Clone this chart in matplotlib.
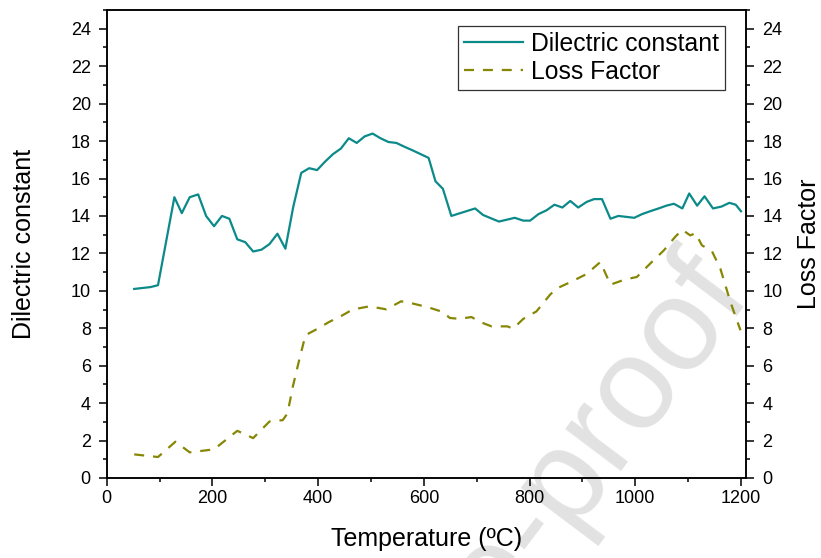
import matplotlib
matplotlib.use("Agg")
import matplotlib.pyplot as plt
from matplotlib.ticker import MultipleLocator

plt.rcParams['font.family'] = ['Liberation Sans', 'DejaVu Sans']

# Dielectric constant vs temperature
temp_dk = [52, 83, 97, 128, 142, 157, 173, 188, 203, 218,
           232, 247, 262, 277, 293, 308, 323, 338, 353, 368,
           383, 398, 413, 428, 443, 458, 473, 488, 503, 518,
           533, 548, 563, 579, 594, 609, 622, 636, 652, 697,
           712, 742, 757, 772, 788, 801, 817, 832, 847, 862,
           877, 892, 908, 922, 937, 953, 968, 983, 998, 1013,
           1028, 1044, 1059, 1073, 1089, 1102, 1117, 1131, 1147, 1163,
           1178, 1190, 1200]
dielectric = [10.1, 10.2, 10.3, 15.0, 14.15, 15.0, 15.15, 14.0, 13.45, 14.0,
              13.85, 12.75, 12.6, 12.1, 12.2, 12.5, 13.05, 12.25, 14.5, 16.3,
              16.55, 16.45, 16.9, 17.3, 17.6, 18.15, 17.9, 18.25, 18.4, 18.15,
              17.95, 17.9, 17.7, 17.5, 17.3, 17.1, 15.85, 15.45, 14.0, 14.4,
              14.05, 13.7, 13.8, 13.9, 13.75, 13.75, 14.1, 14.3, 14.6, 14.45,
              14.8, 14.45, 14.75, 14.9, 14.9, 13.85, 14.0, 13.95, 13.9, 14.1,
              14.25, 14.4, 14.55, 14.65, 14.4, 15.2, 14.55, 15.05, 14.4, 14.5,
              14.7, 14.6, 14.25]

# Loss factor vs temperature
temp_lf = [52, 97, 130, 157, 203, 247, 277, 308, 333, 342,
           352, 364, 376, 396, 421, 446, 465, 497, 529, 557,
           579, 608, 636, 649, 668, 690, 706, 728, 758, 769,
           788, 813, 839, 851, 880, 908, 934, 953, 980, 1003,
           1028, 1054, 1076, 1089, 1104, 1114, 1126, 1145, 1161, 1180,
           1199]
loss_factor = [1.26, 1.12, 1.94, 1.37, 1.53, 2.52, 2.13, 3.02, 3.09, 3.45,
               4.87, 6.29, 7.63, 7.93, 8.34, 8.69, 9.0, 9.17, 9.01, 9.44,
               9.32, 9.12, 8.87, 8.55, 8.5, 8.6, 8.34, 8.1, 8.1, 7.98,
               8.5, 8.9, 9.8, 10.12, 10.5, 10.9, 11.54, 10.33, 10.6, 10.74,
               11.45, 12.16, 12.9, 13.26, 12.96, 13.08, 12.43, 12.12, 11.18, 9.4,
               7.89]

TEAL = '#0c8a8a'
OLIVE = '#878705'

fig = plt.figure(figsize=(8.21, 5.58), dpi=100)
ax = fig.add_axes([0.130, 0.1434, 0.779, 0.8386])
ax2 = ax.twinx()
for a in (ax, ax2):
    a.patch.set_facecolor('none')

# faint diagonal watermark behind the plot
fig.text(0.918, 0.47, 'Journal Pre-proof', fontsize=95, color='#e2e2e2',
         rotation=53, rotation_mode='anchor', ha='right', va='baseline',
         zorder=-5)

l1, = ax.plot(temp_dk, dielectric, color=TEAL, lw=1.6,
              label='Dilectric constant')
l2, = ax2.plot(temp_lf, loss_factor, color=OLIVE, lw=1.6,
               dashes=(4.5, 4), label='Loss Factor')

for a in (ax, ax2):
    a.set_xlim(0, 1210)
    a.set_ylim(0, 25)
    a.yaxis.set_major_locator(MultipleLocator(2))
    a.yaxis.set_minor_locator(MultipleLocator(1))
    for s in a.spines.values():
        s.set_linewidth(1.1)
ax.xaxis.set_major_locator(MultipleLocator(200))
ax.xaxis.set_minor_locator(MultipleLocator(100))

ax.tick_params(axis='both', which='major', direction='out', length=5.5,
               width=1.1, labelsize=13)
ax.tick_params(axis='both', which='minor', direction='out', length=3,
               width=1.1)
ax.tick_params(axis='x', which='major', pad=3)
ax.tick_params(axis='y', which='major', pad=6)
ax.tick_params(axis='x', top=False, which='both')
ax2.tick_params(axis='y', which='major', direction='out', length=5.5,
                width=1.1, labelsize=13, pad=6)
ax2.tick_params(axis='y', which='minor', direction='out', length=3,
                width=1.1)

ax.set_xlabel('Temperature (ºC)', fontsize=18)
ax.set_ylabel('Dilectric constant', fontsize=18)
ax2.set_ylabel('Loss Factor', fontsize=18)
ax.xaxis.set_label_coords(0.5, -0.105)
ax.yaxis.set_label_coords(-0.110, 0.5)
ax2.yaxis.set_label_coords(1.079, 0.5)

leg = ax2.legend([l1, l2], ['Dilectric constant', 'Loss Factor'],
                 loc='upper right', bbox_to_anchor=(0.9667, 0.966),
                 borderaxespad=0, fontsize=17.8, frameon=True,
                 fancybox=False, edgecolor='#333333', framealpha=1,
                 handlelength=2.4, handletextpad=0.3, borderpad=0.25,
                 labelspacing=0.15)
leg.get_frame().set_linewidth(0.9)

fig.savefig('out.png', dpi=100, facecolor='white')
